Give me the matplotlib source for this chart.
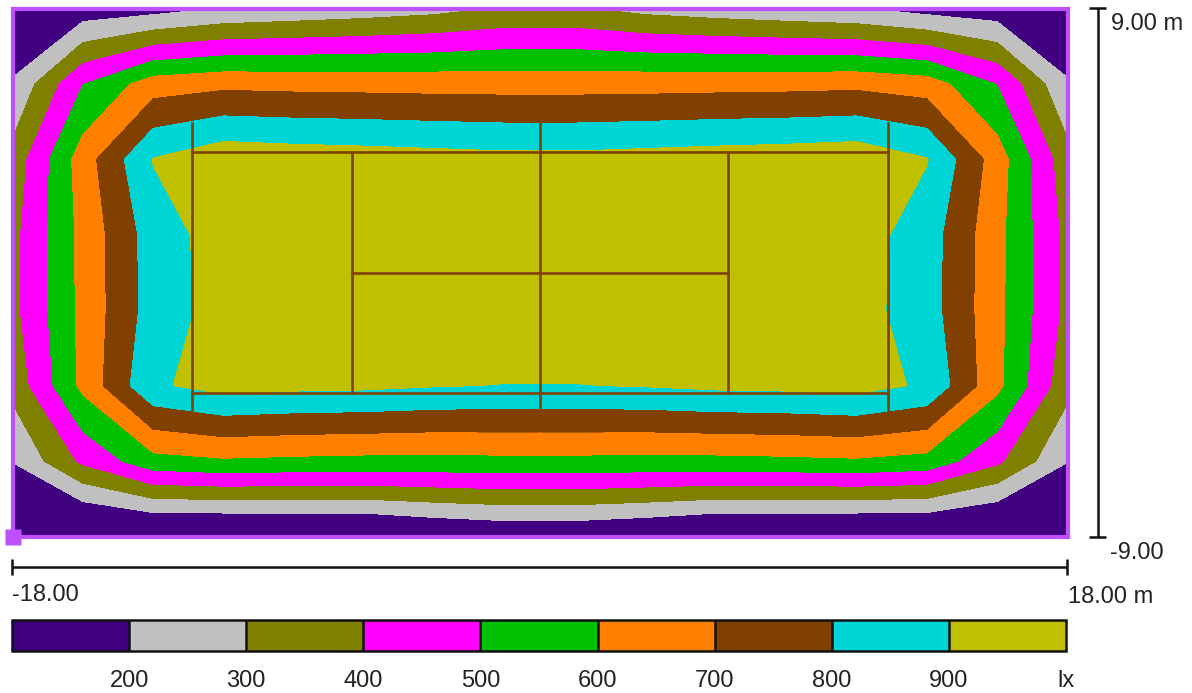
import matplotlib
matplotlib.use("Agg")
import matplotlib.pyplot as plt
import numpy as np

plt.rcParams["font.family"] = ["Liberation Sans", "DejaVu Sans"]

# illuminance in lx, rows from y = 9 m down to y = -9 m
row_1 = [113, 138, 160, 205, 225, 244, 268, 308, 308, 268, 244, 225, 205, 160, 138, 113]
row_2 = [208, 497, 650, 675, 669, 666, 662, 660, 660, 662, 666, 669, 675, 650, 497, 208]
row_3 = [335, 650, 905, 970, 958, 950, 940, 930, 930, 940, 950, 958, 970, 905, 650, 335]
row_4 = [370, 630, 848, 947, 990, 1000, 1005, 1010, 1010, 1005, 1000, 990, 947, 848, 630, 370]
row_5 = [372, 628, 845, 939, 985, 998, 1003, 1005, 1005, 1003, 998, 985, 939, 845, 628, 372]
row_6 = [330, 625, 885, 938, 925, 920, 905, 897, 897, 905, 920, 925, 938, 885, 625, 330]
row_7 = [202, 420, 565, 587, 578, 572, 570, 575, 575, 570, 572, 578, 587, 565, 420, 202]
row_8 = [100, 10, 30, 25, 30, 33, 75, 100, 100, 75, 33, 30, 25, 30, 10, 100]

levels = [0, 200, 300, 400, 500, 600, 700, 800, 900, 1100]
level_labels = ["200", "300", "400", "500", "600", "700", "800", "900", "lx"]
colors = ["#400080", "#C0C0C0", "#808000", "#FF00FF", "#00C000",
          "#FF8000", "#804000", "#00D5D5", "#C0C000"]

# court markings in metres
baseline_x = 11.885
singles_y = 4.115
service_x = 6.4
cross_top = 5.1
cross_bottom = -4.7
sideline_y = -5.45
sideline_x = 2.15

W, H = 1192, 693


def px_axes(left, top, right, bottom):
    return [left / W, 1 - bottom / H, (right - left) / W, (bottom - top) / H]


x = np.linspace(-18, 18, 16)
y = np.linspace(-9, 9, 8)
lux = np.array([row_8, row_7, row_6, row_5, row_4, row_3, row_2, row_1])

fig = plt.figure(figsize=(W / 100, H / 100), dpi=100)

ax = fig.add_axes(px_axes(12.5, 8.5, 1067.5, 536.5))
cf = ax.contourf(x, y, lux, levels=levels, colors=colors)
ax.set_xlim(-18, 18)
ax.set_ylim(-9, 9)
ax.set_xticks([])
ax.set_yticks([])
for spine in ax.spines.values():
    spine.set_color("#BF50FF")
    spine.set_linewidth(3)

# tennis court
line = dict(color="#804000", lw=1.9)
for cx in [-baseline_x, 0, baseline_x]:
    ax.plot([cx, cx], [cross_bottom, cross_top], **line)
for cy in [-singles_y, singles_y]:
    ax.plot([-baseline_x, baseline_x], [cy, cy], **line)
for cx in [-service_x, service_x]:
    ax.plot([cx, cx], [-singles_y, singles_y], **line)
ax.plot([-service_x, service_x], [0, 0], **line)
for sx in [-1, 1]:
    ax.plot([sx * 0.05, sx * sideline_x], [sideline_y, sideline_y], color="#B05A10", lw=0.7)

# origin marker
ax.plot([-18], [-9], marker="s", ms=11.5, color="#BF50FF", mec="none", clip_on=False, zorder=5)

# scale bars and labels are placed in pixels
over = fig.add_axes([0, 0, 1, 1])
over.set_xlim(0, W)
over.set_ylim(H, 0)
over.axis("off")
over.patch.set_alpha(0)

bar = dict(color="#111111", lw=1.8, solid_capstyle="butt")
over.plot([1097.5, 1097.5], [7.5, 537], **bar)
over.plot([1089, 1106], [7.5, 7.5], **bar)
over.plot([1089, 1106], [537, 537], **bar)
over.plot([12, 1067], [567, 567], **bar)
over.plot([12, 12], [559, 575], **bar)
over.plot([1067, 1067], [559, 575], **bar)

txt = dict(fontsize=17, color="#222222", va="center", ha="left")
over.text(1111, 24, "9.00 m", **txt)
over.text(1110, 553, "-9.00", **txt)
over.text(12, 595, "-18.00", **txt)
over.text(1068, 597, "18.00 m", **txt)

# legend
cax = fig.add_axes(px_axes(12, 620, 1066, 651))
cb = fig.colorbar(cf, cax=cax, orientation="horizontal", drawedges=True)
cb.set_ticks(levels[1:], labels=level_labels)
cb.ax.tick_params(length=0, pad=13.5, labelsize=17, labelcolor="#222222")
cb.outline.set_edgecolor("#111111")
cb.outline.set_linewidth(1.8)
cb.dividers.set_color("#111111")
cb.dividers.set_linewidth(1.8)

fig.savefig("out.png", dpi=100)
